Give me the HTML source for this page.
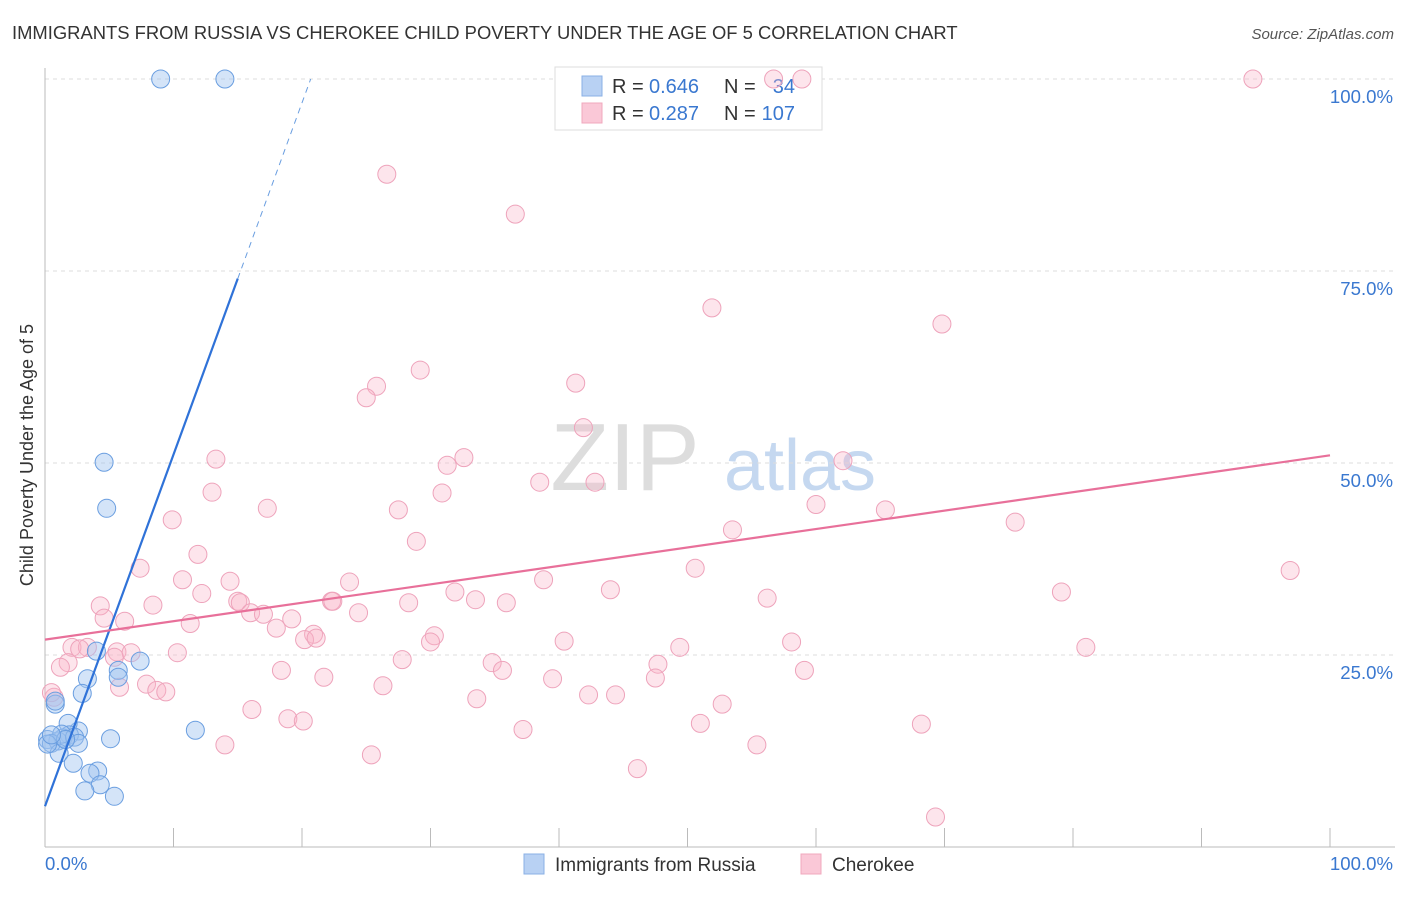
<!DOCTYPE html>
<html><head><meta charset="utf-8"><style>
body{margin:0;background:#fff;font-family:"Liberation Sans",sans-serif;}
svg text{font-family:"Liberation Sans",sans-serif;}
</style></head><body>
<svg id="chart" width="1406" height="892">
<text x="12" y="39" font-size="18.4" fill="#333">IMMIGRANTS FROM RUSSIA VS CHEROKEE CHILD POVERTY UNDER THE AGE OF 5 CORRELATION CHART</text>
<text x="1394" y="39" font-size="15" fill="#555" font-style="italic" text-anchor="end">Source: ZipAtlas.com</text>
<text transform="translate(33,455) rotate(-90)" font-size="18" fill="#333" text-anchor="middle">Child Poverty Under the Age of 5</text>
<text x="625" y="490" font-size="96" fill="#ddd" font-family="Liberation Serif" text-anchor="middle">ZIP</text>
<text x="800" y="490" font-size="72" fill="#c5d8f0" text-anchor="middle">atlas</text>
<g id="grid"></g><g id="axes"></g>
<g>
<rect x="555" y="67" width="267" height="63" fill="#fff" stroke="#ddd"/>
<rect x="582" y="76" width="20" height="20" fill="#b8d1f3" stroke="#8ab0e6"/>
<rect x="582" y="103" width="20" height="20" fill="#fac8d7" stroke="#f0a8be"/>
<text x="612" y="93" font-size="20" fill="#333">R =</text>
<text x="649" y="93" font-size="20" fill="#3a78d0">0.646</text>
<text x="724" y="93" font-size="20" fill="#333">N =</text>
<text x="795" y="93" font-size="20" fill="#3a78d0" text-anchor="end">34</text>
<text x="612" y="120" font-size="20" fill="#333">R =</text>
<text x="649" y="120" font-size="20" fill="#3a78d0">0.287</text>
<text x="724" y="120" font-size="20" fill="#333">N =</text>
<text x="795" y="120" font-size="20" fill="#3a78d0" text-anchor="end">107</text>
</g>
<g id="pts"></g><g id="lines"></g>
<g>
<rect x="524" y="854" width="20" height="20" fill="#b8d1f3" stroke="#8ab0e6"/>
<text x="555" y="871" font-size="19" fill="#333">Immigrants from Russia</text>
<rect x="801" y="854" width="20" height="20" fill="#fac8d7" stroke="#f0a8be"/>
<text x="832" y="871" font-size="19" fill="#333">Cherokee</text>
</g>
</svg>
<script>
const yTicks=[25,50,75,100];
const yTickLabels=["25.0%","50.0%","75.0%","100.0%"];
const xTickCount=10;
const blueX=[9,14,4.6,4.8,7.4,5.7,4,3.3,5.7,2.9,0.8,11.7,5.1,0.2,2.6,1.8,1.9,1.4,1,1.3,2.3,2.6,0.5,1.1,2.2,4.1,3.5,4.3,3.1,5.4,0.8,0.2,1.6,0.5];
const blueY=[100,100,50.1,44.1,24.2,23,25.5,21.9,22.1,20,18.6,15.2,14.1,14,15.1,16.1,14.6,14.2,13.8,14.7,14.3,13.5,13.5,12.2,10.9,9.9,9.6,8.1,7.3,6.6,19,13.4,14,14.6];
const pinkX=[58.9,56.7,94,26.6,36.6,51.9,69.8,29.2,41.3,25.8,25,41.9,32.6,31.3,38.5,42.8,62.1,13.3,13,30.9,17.3,27.5,60,65.4,9.9,75.5,53.5,28.9,11.9,7.4,50.6,96.9,10.7,14.4,23.7,38.8,12.2,31.9,44,79.1,56.2,15,8.4,4.3,15.2,22.3,28.3,33.5,35.9,16,24.4,17,4.6,11.3,6.2,19.2,18,22.4,20.9,20.2,21.1,30.3,30,40.4,49.4,58.1,81,2.1,3.3,2.7,5.6,6.7,10.3,27.8,34.8,47.7,1.8,1.2,5.4,18.4,59.1,35.6,21.7,39.5,47.5,7.9,8.7,9.4,5.8,26.3,42.3,44.4,33.6,52.7,16.1,18.9,20.1,51,68.2,37.2,14,55.4,25.4,46.1,69.3,0.7,0.5];
const pinkY=[100,100,100,87.6,82.4,70.2,68.1,62.1,60.4,60,58.5,54.6,50.7,49.7,47.5,47.5,50.3,50.5,46.2,46.1,44.1,43.9,44.6,43.9,42.6,42.3,41.3,39.8,38.1,36.3,36.3,36,34.8,34.6,34.5,34.8,33,33.2,33.5,33.2,32.4,32,31.5,31.4,31.8,32,31.8,32.2,31.8,30.5,30.5,30.3,29.8,29.1,29.4,29.7,28.5,32,27.7,27,27.2,27.5,26.7,26.8,26,26.7,26,26,26,25.8,25.4,25.3,25.3,24.4,24,23.8,24,23.4,24.7,23,23,23,22.1,21.9,22,21.2,20.4,20.2,20.8,21,19.8,19.8,19.3,18.6,17.9,16.7,16.4,16.1,16,15.3,13.3,13.3,12,10.2,3.9,19.5,20.1];
const blueFit=[5.3,74];
const pinkFit=[27,51];
const X0=45,X1=1330,Y0=847,Y100=79;
const sx=v=>X0+(X1-X0)*v/100, sy=v=>Y0-(Y0-Y100)*v/100;
const NS="http://www.w3.org/2000/svg";
function mk(tag,attrs,parent){const e=document.createElementNS(NS,tag);for(const k in attrs)e.setAttribute(k,attrs[k]);parent.appendChild(e);return e;}
const grid=document.getElementById('grid'),axes=document.getElementById('axes'),pts=document.getElementById('pts'),lines=document.getElementById('lines');
yTicks.forEach((t,i)=>{
 const l=mk('line',{x1:X0,x2:1395,y1:sy(t),y2:sy(t),stroke:'#ddd','stroke-dasharray':'4,4'},grid);
 
 
 const tx=mk('text',{x:1393,y:sy(t)+24,'font-size':18.6,fill:'#3a78d0','text-anchor':'end'},axes);tx.textContent=yTickLabels[i];
 
 
});
const ax=mk('line',{x1:X0,x2:X0,y1:68,y2:847,stroke:'#bbb'},axes);


const bx=mk('line',{x1:X0,x2:1395,y1:847,y2:847,stroke:'#bbb'},axes);


for(let i=0;i<=xTickCount;i++){const t=mk('line',{x1:sx(i*10),x2:sx(i*10),y1:828,y2:847,stroke:'#bbb'},axes);
 
 }
const xl=mk('text',{x:45,y:870,'font-size':18.6,fill:'#3a78d0'},axes);xl.textContent='0.0%';


const xr=mk('text',{x:1393,y:870,'font-size':18.6,fill:'#3a78d0','text-anchor':'end'},axes);xr.textContent='100.0%';


pinkX.forEach((x,i)=>{const c=mk('circle',{cx:sx(x),cy:sy(pinkY[i]),r:9,fill:'rgba(248,180,200,0.35)',stroke:'#eea3bb','stroke-width':1},pts);
 
 });
blueX.forEach((x,i)=>{const c=mk('circle',{cx:sx(x),cy:sy(blueY[i]),r:9,fill:'rgba(160,195,240,0.45)',stroke:'#6a9ee0','stroke-width':1},pts);
 
 });
const slope=(blueFit[1]-blueFit[0])/15, xEnd=(100-blueFit[0])/slope;
const b1=mk('line',{x1:sx(0),y1:sy(blueFit[0]),x2:sx(15),y2:sy(blueFit[1]),stroke:'#2f72d8','stroke-width':2.2},lines);


const b2=mk('line',{x1:sx(15),y1:sy(blueFit[1]),x2:sx(xEnd),y2:sy(100),stroke:'#6a9ee0','stroke-width':1,'stroke-dasharray':'6,5'},lines);


const p1=mk('line',{x1:sx(0),y1:sy(pinkFit[0]),x2:sx(100),y2:sy(pinkFit[1]),stroke:'#e8709a','stroke-width':2.2},lines);


</script>
</body></html>
